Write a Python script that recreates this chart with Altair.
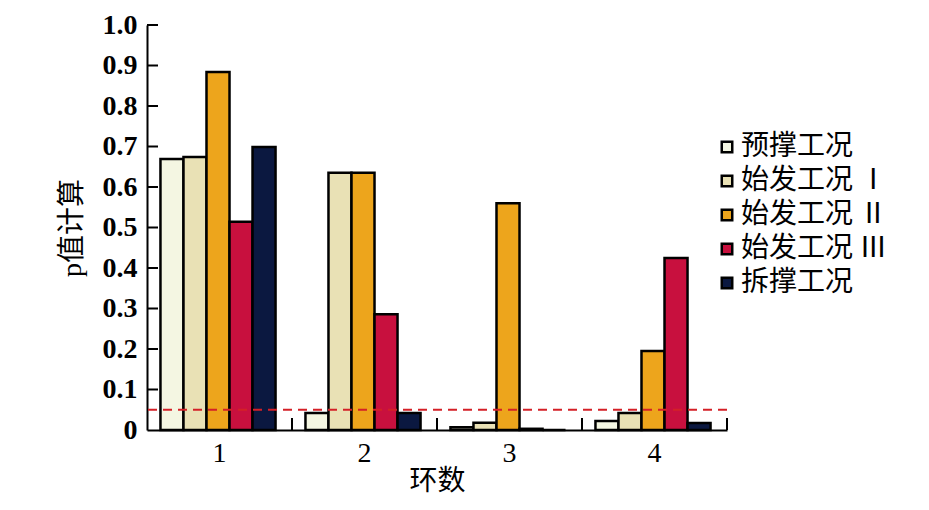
import altair as alt
import pandas as pd

rings = ["1", "2", "3", "4"]
series = ["预撑工况", "始发工况 Ⅰ", "始发工况 Ⅱ", "始发工况 Ⅲ", "拆撑工况"]
colors = ["#f4f6e2", "#e9e1b5", "#eda51c", "#c8103e", "#0b1840"]

v_yucheng = [0.669, 0.042, 0.007, 0.022]
v_shifa1 = [0.674, 0.635, 0.018, 0.042]
v_shifa2 = [0.884, 0.635, 0.560, 0.195]
v_shifa3 = [0.514, 0.286, 0.003, 0.425]
v_chaicheng = [0.699, 0.042, 0.0, 0.017]

y_ticks = [0.1, 0.2, 0.3, 0.4, 0.5, 0.6, 0.7, 0.8, 0.9, 1.0]
y_labels = [0, 0.1, 0.2, 0.3, 0.4, 0.5, 0.6, 0.7, 0.8, 0.9, 1.0]
threshold = [0.05]

rows = []
for s, vals in zip(series, [v_yucheng, v_shifa1, v_shifa2, v_shifa3, v_chaicheng]):
    for r, v in zip(rings, vals):
        rows.append({"ring": r, "series": s, "p": v})
df = pd.DataFrame(rows)

num_font = "Liberation Serif"
cjk_font = "Liberation Serif, Noto Sans CJK SC"

yscale = alt.Scale(domain=[0, 1], nice=False, zero=True)
xscale = alt.Scale(domain=rings, paddingInner=0, paddingOuter=0)

bars = alt.Chart(df).mark_bar(stroke="black", strokeWidth=2.5).encode(
    x=alt.X("ring:N", sort=rings, scale=xscale,
            axis=alt.Axis(title="环数", labelAngle=0, ticks=False, tickSize=0,
                          domainColor="black", domainWidth=2,
                          labelFont=num_font, labelFontSize=28, labelFontWeight="normal",
                          labelColor="black", labelPadding=9,
                          titleFont=cjk_font, titleFontSize=28, titleFontWeight="normal",
                          titleColor="black", titlePadding=0)),
    xOffset=alt.XOffset("series:N", sort=series,
                        scale=alt.Scale(domain=series, paddingInner=0, paddingOuter=0.65, align=0.45)),
    y=alt.Y("p:Q", scale=yscale,
            axis=alt.Axis(title="p值计算", values=y_labels,
                          labelExpr="datum.value == 0 ? '0' : format(datum.value, '.1f')",
                          ticks=False, tickSize=0, grid=False,
                          domainColor="black", domainWidth=2,
                          labelFont=num_font, labelFontSize=28, labelFontWeight="bold",
                          labelColor="black", labelPadding=10,
                          titleFont=cjk_font, titleFontSize=28, titleFontWeight="normal",
                          titleColor="black", titlePadding=16)),
    color=alt.Color("series:N", sort=series,
                    scale=alt.Scale(domain=series, range=colors),
                    legend=alt.Legend(title=None, orient="none", legendX=566, legendY=108,
                                      symbolType="square", symbolSize=110,
                                      symbolStrokeColor="black", symbolStrokeWidth=2.5,
                                      labelFont="Noto Sans CJK SC", labelFontSize=28,
                                      labelColor="black", rowPadding=6, labelOffset=0,
                                      padding=0)),
)

thr = alt.Chart(pd.DataFrame({"p": threshold})).mark_rule(
    color="#d42027", strokeDash=[9, 6], strokeWidth=2
).encode(y=alt.Y("p:Q", scale=yscale, title="p值计算"))

yt = alt.Chart(pd.DataFrame({"p": y_ticks})).mark_rule(color="black", strokeWidth=2).encode(
    y=alt.Y("p:Q", scale=yscale, title="p值计算"),
    x=alt.value(0), x2=alt.value(11),
)

xt = alt.Chart(pd.DataFrame({"ring": rings})).mark_rule(color="black", strokeWidth=2).encode(
    x=alt.X("ring:N", sort=rings, scale=xscale, bandPosition=1, title="环数"),
    y=alt.value(405), y2=alt.value(393),
)

chart = alt.layer(bars, thr, yt, xt).properties(
    width=580, height=405,
    padding={"left": 139, "top": 17, "right": 194, "bottom": 72},
    autosize=alt.AutoSizeParams(type="none"),
).configure(background="white").configure_view(stroke=None)

chart.save("out.html", embed_options={"renderer": "svg", "actions": False})
